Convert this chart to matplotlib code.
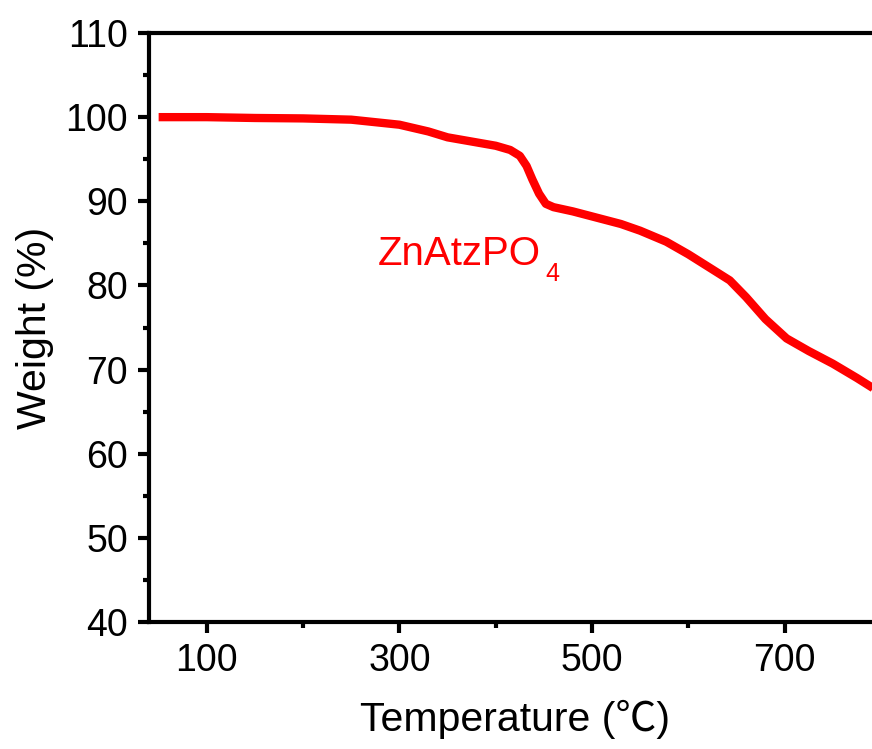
import matplotlib
matplotlib.use("Agg")
import matplotlib.pyplot as plt
from matplotlib.ticker import MultipleLocator, FixedLocator

plt.rcParams['font.family'] = ['Liberation Sans', 'Noto Sans CJK SC', 'DejaVu Sans']

temperature = [50, 100, 150, 200, 250, 300, 330, 350, 380, 400, 415, 425, 432, 438, 445, 452, 460,
               480, 500, 530, 550, 577, 600, 625, 643, 660, 680, 702, 725, 750, 775, 800]
weight = [100.0, 100.0, 99.9, 99.85, 99.7, 99.1, 98.3, 97.6, 97.0, 96.6, 96.1, 95.4, 94.2, 92.6, 90.9, 89.7, 89.3,
          88.8, 88.2, 87.3, 86.5, 85.2, 83.7, 81.9, 80.6, 78.6, 76.0, 73.7, 72.2, 70.7, 69.0, 67.2]

label_main = 'ZnAtzPO'
label_sub = '4'

fig = plt.figure(figsize=(8.72, 7.49), dpi=100)
ax = fig.add_axes([149/872, 127/749, (881-149)/872, (622-33)/749])

ax.plot(temperature, weight, color='#ff0000', lw=6, solid_capstyle='butt')
ax.set_xlim(40, 800)
ax.set_ylim(40, 110)

ax.xaxis.set_major_locator(FixedLocator([100, 300, 500, 700]))
ax.xaxis.set_minor_locator(FixedLocator([200, 400, 600, 800]))
ax.yaxis.set_major_locator(MultipleLocator(10))
ax.yaxis.set_minor_locator(MultipleLocator(5))

for s in ax.spines.values():
    s.set_linewidth(3)
ax.tick_params(which='major', direction='out', length=8, width=3, labelsize=27, pad=7)
ax.tick_params(which='minor', direction='out', length=4.5, width=3)
ax.tick_params(top=False, right=False, which='both')

ax.set_xlabel('Temperature (℃)', fontsize=29.5, labelpad=15)
ax.set_ylabel('Weight (%)', fontsize=29.5, labelpad=8)

ax.text(378, 749 - 265, label_main, transform=None, fontsize=29, color='#ff0000',
        va='baseline', ha='left')
ax.text(545, 749 - 281, label_sub, transform=None, fontsize=18, color='#ff0000',
        va='baseline', ha='left')

fig.savefig('out.png', dpi=100)
